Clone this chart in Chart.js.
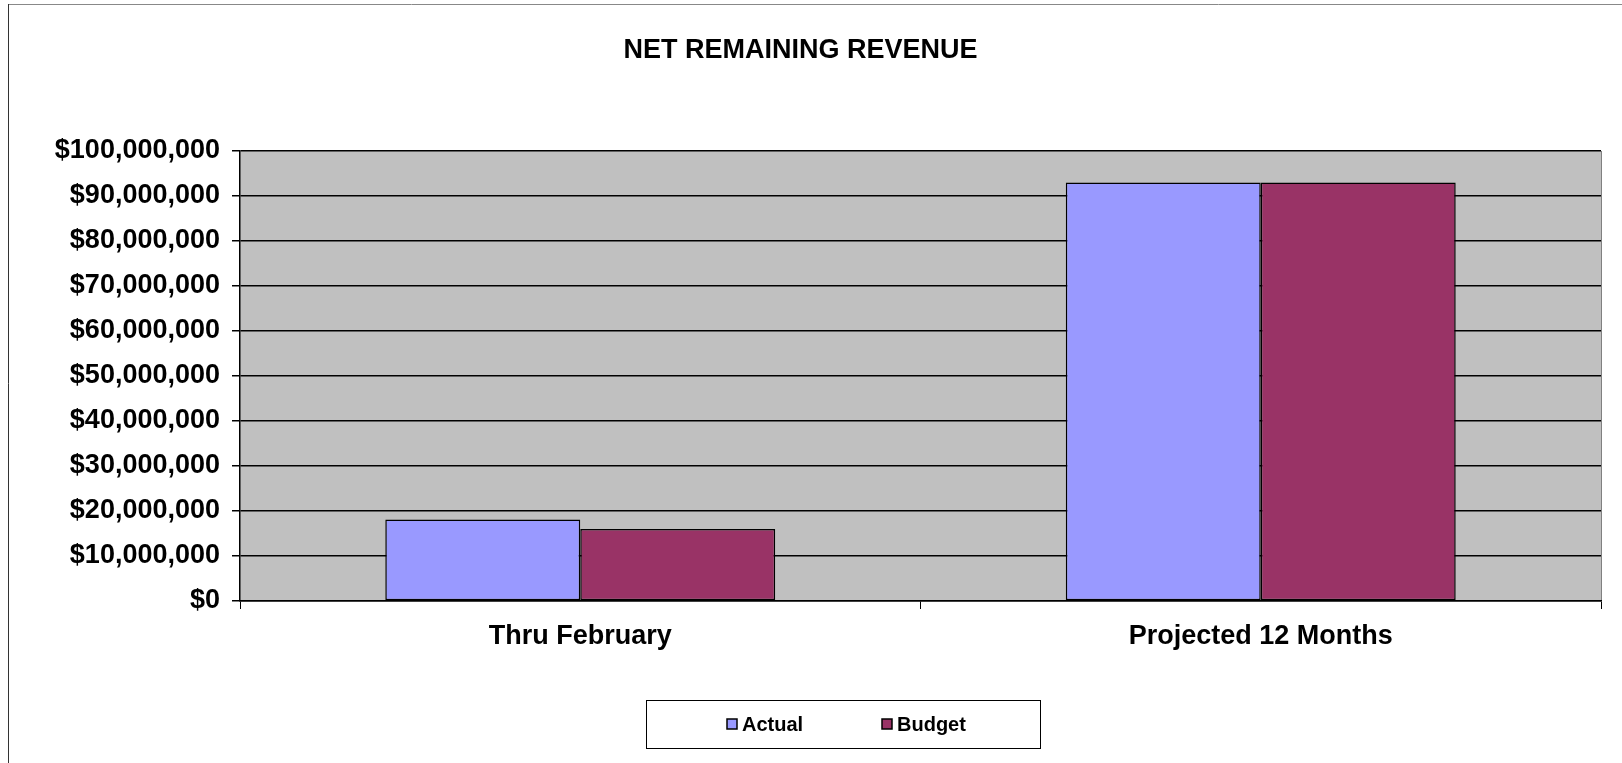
<!DOCTYPE html>
<html>
<head>
<meta charset="utf-8">
<script src="https://cdn.jsdelivr.net/npm/chart.js@4"></script>
<style>
  html, body { margin: 0; padding: 0; background: #fff; }
  #wrap { width: 1622px; height: 763px; position: relative; }
</style>
</head>
<body>
<div id="wrap"><canvas id="revenueChart" width="1622" height="763"></canvas></div>
<script>
// categories and values
const categories = ['Thru February', 'Projected 12 Months'];
const actualValues = [18100000, 93000000];
const budgetValues = [16000000, 93000000];
const seriesNames = ['Actual', 'Budget'];
const seriesColors = ['#9999FF', '#993366'];

const FONT = "'Liberation Sans', Arial, sans-serif";

// grey plot area, frame round the whole chart
const backdrop = {
    id: 'backdrop',
    beforeDraw(chart) {
        const {ctx, chartArea: a} = chart;
        ctx.save();
        ctx.fillStyle = '#C0C0C0';
        ctx.fillRect(a.left, a.top, a.right - a.left, a.bottom - a.top);
        ctx.strokeStyle = '#808080';
        ctx.lineWidth = 1;
        ctx.beginPath();
        ctx.moveTo(a.right + 0.5, a.top);
        ctx.lineTo(a.right + 0.5, a.bottom);
        ctx.stroke();
        // outer frame
        ctx.strokeStyle = '#888';
        ctx.beginPath();
        ctx.moveTo(8, 4.5);
        ctx.lineTo(chart.width, 4.5);
        ctx.stroke();
        ctx.strokeStyle = '#333';
        ctx.beginPath();
        ctx.moveTo(8.5, 4);
        ctx.lineTo(8.5, chart.height);
        ctx.stroke();
        ctx.restore();
    }
};

// excel-like legend box below the axis
const boxLegend = {
    id: 'boxLegend',
    afterDraw(chart) {
        const {ctx} = chart;
        const box = {x: 646, y: 700, w: 394, h: 48};
        const itemX = [727, 882];
        ctx.save();
        ctx.strokeStyle = '#000';
        ctx.lineWidth = 1;
        ctx.strokeRect(box.x + 0.5, box.y + 0.5, box.w, box.h);
        ctx.font = 'bold 20px ' + FONT;
        ctx.textBaseline = 'middle';
        const cy = box.y + box.h / 2;
        chart.data.datasets.forEach((ds, i) => {
            ctx.fillStyle = ds.backgroundColor;
            ctx.fillRect(itemX[i], cy - 5, 10, 10);
            ctx.strokeStyle = '#000';
            ctx.lineWidth = 1.5;
            ctx.strokeRect(itemX[i], cy - 5, 10, 10);
            ctx.fillStyle = '#000';
            ctx.fillText(ds.label, itemX[i] + 15, cy + 1);
        });
        ctx.restore();
    }
};

const ctx = document.getElementById('revenueChart').getContext('2d');
const revenueChart = new Chart(ctx, {
    type: 'bar',
    data: {
        labels: categories,
        datasets: [{
            label: seriesNames[0],
            data: actualValues,
            backgroundColor: seriesColors[0],
            borderColor: '#000',
            borderWidth: 1.5,
            borderSkipped: false
        }, {
            label: seriesNames[1],
            data: budgetValues,
            backgroundColor: seriesColors[1],
            borderColor: '#000',
            borderWidth: 1.5,
            borderSkipped: false
        }]
    },
    options: {
        responsive: false,
        animation: false,
        layout: { padding: { left: 0, right: 21, top: 0, bottom: 102 } },
        datasets: {
            bar: { categoryPercentage: 0.573, barPercentage: 1.0 }
        },
        plugins: {
            legend: { display: false },
            tooltip: { enabled: false },
            title: {
                display: true,
                text: 'NET REMAINING REVENUE',
                color: '#000',
                font: { family: FONT, size: 27, weight: 'bold' },
                padding: { top: 34, bottom: 84.6 }
            }
        },
        scales: {
            x: {
                grid: { display: true, drawOnChartArea: false, color: '#000', tickLength: 8, offset: true },
                border: { color: '#000', width: 1.5 },
                ticks: { color: '#000', padding: 11, font: { family: FONT, size: 27, weight: 'bold' } },
                afterFit(scale) { scale.height = 60; }
            },
            y: {
                min: 0,
                max: 100000000,
                grid: { color: '#000', lineWidth: 1.5, tickLength: 8 },
                border: { color: '#000', width: 1.5 },
                ticks: {
                    stepSize: 10000000,
                    color: '#000',
                    padding: 12,
                    font: { family: FONT, size: 27, weight: 'bold' },
                    callback: v => '$' + Number(v).toLocaleString('en-US')
                },
                afterFit(scale) { scale.width = 240; }
            }
        }
    },
    plugins: [backdrop, boxLegend]
});
</script>
</body>
</html>
